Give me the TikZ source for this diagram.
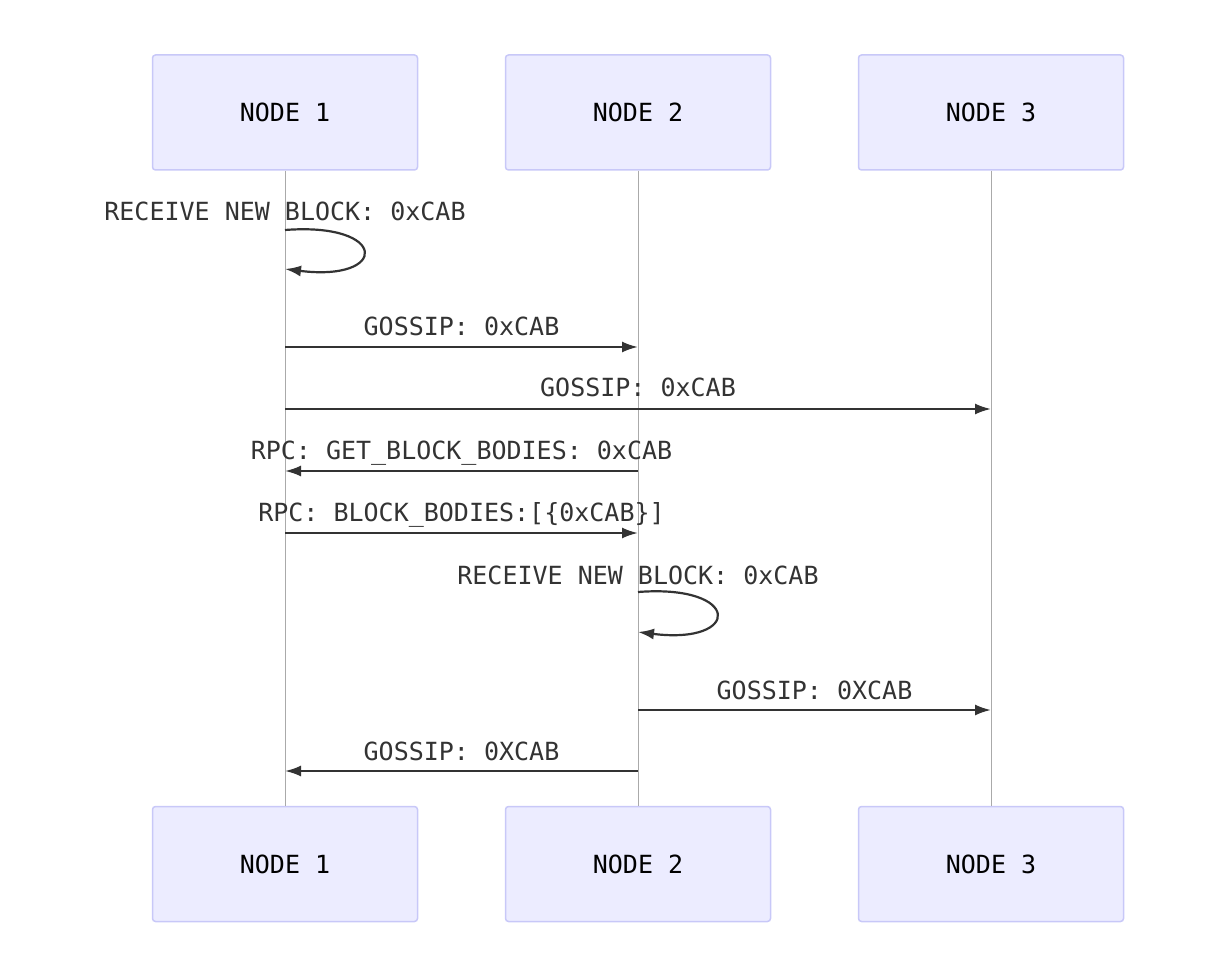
\documentclass[tikz,border=0pt]{standalone}
\usepackage{fontspec}
\setmonofont{DejaVu Sans Mono}
\usetikzlibrary{arrows.meta,positioning,calc}
\definecolor{actfill}{HTML}{ECECFF}
\definecolor{actline}{HTML}{C8C8F8}
\definecolor{msgline}{HTML}{333333}
\definecolor{lifeline}{HTML}{AAAAAA}

\begin{document}
\begin{tikzpicture}[x=0.5pt,y=-0.5pt,font=\ttfamily\fontsize{12.5pt}{15pt}\selectfont,
  actor/.style={draw=actline,fill=actfill,rounded corners=1.5pt,line width=0.75pt,
    minimum width=132.5pt,minimum height=57.5pt,text=black},
  msg/.style={draw=msgline,line width=1.1pt,-{Latex[length=8pt,width=5.5pt]}},
  lbl/.style={text=msgline,anchor=base,inner sep=0pt}]
  \useasboundingbox (0,0) rectangle (1224,956);
  % actors, top and bottom
  \node[actor] (top1) at (285,112.5) {NODE 1};
  \node[actor] (top2) at (638,112.5) {NODE 2};
  \node[actor] (top3) at (991,112.5) {NODE 3};
  \node[actor] (bot1) at (285,864) {NODE 1};
  \node[actor] (bot2) at (638,864) {NODE 2};
  \node[actor] (bot3) at (991,864) {NODE 3};
  \draw[lifeline,line width=0.5pt] (top1) -- (bot1) (top2) -- (bot2) (top3) -- (bot3);
  % node 1 gets the block
  \node[lbl] (rx1) at (285,221) {RECEIVE NEW BLOCK: 0xCAB};
  \draw[msg] (top1 |- 0,230) .. controls +(104,-8) and +(104,13) .. (top1 |- 0,269);
  \node[lbl] (g12) at (461.5,336) {GOSSIP: 0xCAB};
  \draw[msg] (top1 |- 0,347) -- (top2 |- 0,347);
  \node[lbl] (g13) at (638,397) {GOSSIP: 0xCAB};
  \draw[msg] (top1 |- 0,409) -- (top3 |- 0,409);
  % bodies request
  \node[lbl] (req) at (461.5,459) {RPC: GET\_BLOCK\_BODIES: 0xCAB};
  \draw[msg] (top2 |- 0,471) -- (top1 |- 0,471);
  \node[lbl] (rep) at (461.5,521) {RPC: BLOCK\_BODIES:[\{0xCAB\}]};
  \draw[msg] (top1 |- 0,533) -- (top2 |- 0,533);
  % node 2 gets the block
  \node[lbl] (rx2) at (638,584) {RECEIVE NEW BLOCK: 0xCAB};
  \draw[msg] (top2 |- 0,592) .. controls +(104,-8) and +(104,13) .. (top2 |- 0,632);
  \node[lbl] (g23) at (814.5,699) {GOSSIP: 0XCAB};
  \draw[msg] (top2 |- 0,710) -- (top3 |- 0,710);
  \node[lbl] (g21) at (461.5,760) {GOSSIP: 0XCAB};
  \draw[msg] (top2 |- 0,771) -- (top1 |- 0,771);
\end{tikzpicture}
\end{document}
